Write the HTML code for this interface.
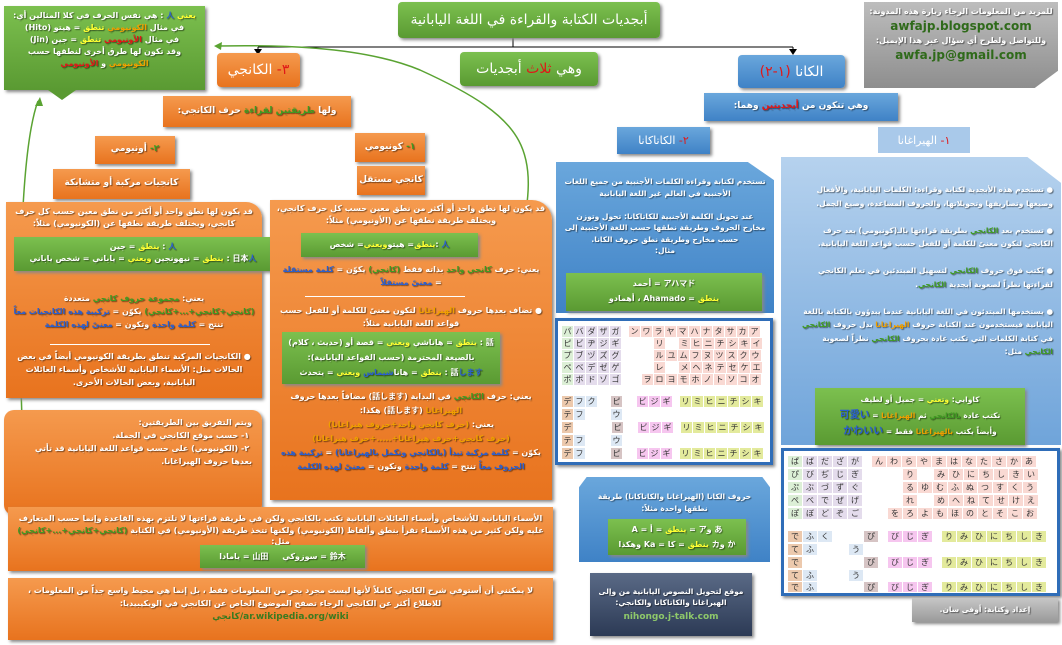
<!DOCTYPE html>
<html><head><meta charset="utf-8">
<style>
*{margin:0;padding:0;box-sizing:border-box}
body{width:1062px;height:645px;background:#fff;position:relative;overflow:hidden;font-family:"DejaVu Sans","Liberation Sans","Noto Sans CJK JP",sans-serif;font-weight:bold;color:#fff}
.a{position:absolute}
.g{background:linear-gradient(#7cc04f,#5a9a32);box-shadow:2px 2px 3px #888}
.o{background:linear-gradient(#f59a4e,#e8731e);box-shadow:2px 2px 3px #888}
.b{background:linear-gradient(#6aa7dc,#3f82c6);box-shadow:2px 2px 3px #888}
.c{display:flex;align-items:center;justify-content:center;text-align:center}
.t{direction:rtl;text-align:center;font-size:8px;line-height:11.5px;text-shadow:1px 1px 1px rgba(0,0,0,.5)}
.y{color:#ffff33}.r{color:#e01818}.gr{color:#3f9a22}.bl{color:#2a5fd0}.or{color:#f0a000}
.tbl{background:#fff;border:3px solid #2f6db8;box-shadow:2px 2px 3px #888;overflow:hidden}
.row{position:absolute;display:flex;left:4px}
.row span{display:block;font-size:8px;color:#333;text-shadow:none;text-align:center;font-weight:normal;margin-right:1px;flex:none}
.kt .row span:not(.e){width:11px!important}
.kt .row span.e{max-width:24px}
.p{background:#f9d9d3}.v{background:#e4dcec}.q{background:#dcefd6}.k{background:#e3ea9c}.m{background:#f6c6ef}.s{background:#dde8f4}.n{background:#ecc9ad}.x{background:#d6c4c4}.e{background:transparent}
</style></head><body>

<svg class="a" style="left:0;top:0" width="1062" height="645">
<line x1="513" y1="38" x2="513" y2="47" stroke="#000"/>
<line x1="258" y1="47" x2="793" y2="47" stroke="#000"/>
<line x1="258" y1="47" x2="258" y2="52" stroke="#000"/><polygon points="254,49 262,49 258,55" fill="#000"/>
<line x1="793" y1="47" x2="793" y2="52" stroke="#000"/><polygon points="789,49 797,49 793,55" fill="#000"/>
<path d="M520 245 C 540 150, 530 120, 420 70 C 360 45, 270 45, 218 46" stroke="#5aa332" stroke-width="1.5" fill="none"/>
<polygon points="214,46 222,42 221,50" fill="#5aa332"/>
<path d="M22 420 C 18 300, 20 150, 38 101" stroke="#5aa332" stroke-width="1.5" fill="none"/>
<polygon points="40,97 35,106 43,106" fill="#5aa332"/>
</svg>

<div class="a g c" style="left:398px;top:2px;width:262px;height:36px;border-radius:4px;font-size:14px;font-weight:normal;direction:rtl">أبجديات الكتابة والقراءة في اللغة اليابانية</div>
<div class="a g c" style="left:460px;top:52px;width:138px;height:34px;border-radius:4px;font-size:14px;font-weight:normal;direction:rtl">وهي <span class="r">&nbsp;ثلاث&nbsp;</span> أبجديات</div>
<div class="a o c" style="left:217px;top:53px;width:83px;height:34px;border-radius:4px;font-size:14px;font-weight:normal;direction:rtl"><span class="r">٣-&nbsp;</span>الكانجي</div>
<div class="a b c" style="left:738px;top:55px;width:107px;height:33px;border-radius:4px;font-size:14px;font-weight:normal;direction:rtl">الكانا&nbsp;<span class="r">(١-٢)</span></div>

<div class="a t" style="left:864px;top:2px;width:194px;height:86px;background:linear-gradient(#bdbdbd,#8e8e8e);box-shadow:2px 2px 3px #777;padding-top:4px;line-height:12px;clip-path:polygon(0 0,100% 0,100% 80%,88% 100%,0 100%)">
للمزيد من المعلومات الرجاء زيارة هذه المدونة:<br><span style="color:#2f6a1a;font-size:12px;line-height:17px;text-shadow:none">awfajp.blogspot.com</span><br>وللتواصل ولطرح أي سؤال عبر هذا الإيميل:<br><span style="color:#2f6a1a;font-size:12px;line-height:17px;text-shadow:none">awfa.jp@gmail.com</span></div>

<div class="a g t" style="left:4px;top:6px;width:201px;height:84px;padding:4px 6px;text-align:center;line-height:12px;font-size:8px">
<span class="y">يعني</span> <span class="bl">人</span> : هي نفس الحرف في كلا المثالين أي:<br>في مثال <span class="or">الكونيومي</span> <span class="y">تنطق</span> = هيتو (Hito)<br>في مثال <span class="r">الأونيومي</span> <span class="y">تنطق</span> = جين (Jin)<br>وقد تكون لها طرق أخرى لنطقها حسب <span class="or">الكونيومي</span> و <span class="r">الأونيومي</span></div>
<div class="a" style="left:48px;top:90px;width:0;height:0;border-left:14px solid transparent;border-right:14px solid transparent;border-top:10px solid #5a9a32"></div>

<div class="a o c t" style="left:163px;top:96px;width:188px;height:31px;font-size:9px">ولها <span class="gr">&nbsp;طريقتين لقراءة&nbsp;</span> حرف الكانجي:</div>
<div class="a b c t" style="left:704px;top:93px;width:194px;height:28px;font-size:9px">وهي تتكون من <span class="r">&nbsp;أبجديتين&nbsp;</span> وهما:</div>
<div class="a b c" style="left:617px;top:127px;width:93px;height:27px;font-size:11px;font-weight:normal;direction:rtl"><span class="r">٢-&nbsp;</span>الكاتاكانا</div>
<div class="a c" style="left:878px;top:127px;width:92px;height:26px;font-size:11px;font-weight:normal;direction:rtl;background:#a9c9ea"><span class="r">١-&nbsp;</span>الهيراغانا</div>

<div class="a o c t" style="left:355px;top:133px;width:70px;height:29px;font-size:9px"><span class="gr">١-&nbsp;</span>كونيومي</div>
<div class="a o c t" style="left:357px;top:166px;width:68px;height:29px;font-size:9px">كانجي مستقل</div>
<div class="a o c t" style="left:95px;top:136px;width:80px;height:28px;font-size:9px"><span class="gr">٢-&nbsp;</span>أونيومي</div>
<div class="a o c t" style="left:53px;top:169px;width:137px;height:30px;font-size:9px">كانجيات مركبة أو متشابكة</div>

<div class="a o t" style="left:6px;top:202px;width:256px;height:196px;border-radius:0 16px 0 0;padding:4px 6px;font-size:8px">
قد يكون لها نطق واحد أو أكثر من نطق معين حسب كل حرف كانجي، ويختلف طريقة نطقها عن (الكونيومي) مثلاً:</div>
<div class="a g t" style="left:14px;top:237px;width:258px;height:34px;padding-top:4px;font-size:8px"><span class="bl">人</span> : <span class="y">ينطق</span> = جين<br>日本<span class="bl">人</span> : <span class="y">ينطق</span> = نيهونجين <span class="y">ويعني</span> = ياباني = شخص ياباني</div>
<div class="a t" style="left:12px;top:292px;width:244px;font-size:8px;line-height:13px">يعني: <span class="gr">مجموعة حروف كانجي</span> متعددة <span class="gr">(كانجي+كانجي+...+كانجي)</span> يكوّن = <span class="bl">تركيبة هذه الكانجيات معاً</span> تنتج = <span class="bl">كلمة واحدة</span> وتكون = <span class="bl">معنىً لهذه الكلمة</span></div>
<div class="a" style="left:50px;top:344px;width:160px;height:1px;background:#fff"></div>
<div class="a t" style="left:12px;top:350px;width:244px;font-size:8px;line-height:13px">● الكانجيات المركبة تنطق بطريقة الكونيومي أيضاً في بعض الحالات مثل: الأسماء اليابانية للأشخاص وأسماء العائلات اليابانية، وبعض الحالات الأخرى.</div>

<div class="a o t" style="left:270px;top:200px;width:282px;height:300px;border-radius:0 20px 0 0;padding:3px 6px;font-size:8px">قد يكون لها نطق واحد أو أكثر من نطق معين حسب كل حرف كانجي، ويختلف طريقة نطقها عن (الأونيومي) مثلاً:</div>
<div class="a g c t" style="left:301px;top:233px;width:177px;height:24px;font-size:8px"><span class="bl">人</span>&nbsp;: <span class="y">ينطق</span> = هيتو <span class="y">ويعني</span> = شخص</div>
<div class="a t" style="left:278px;top:263px;width:266px;font-size:8px;line-height:13px">يعني: حرف <span class="gr">كانجي واحد</span> بذاته فقط <span class="gr">(كانجي)</span> يكوّن = <span class="bl">كلمة مستقلة</span> = <span class="bl">معنىً مستقلاً</span></div>
<div class="a" style="left:305px;top:296px;width:160px;height:1px;background:#fff"></div>
<div class="a t" style="left:278px;top:304px;width:266px;font-size:8px;line-height:13px">● تضاف بعدها حروف <span class="or">الهيراغانا</span> لتكون معنىً للكلمة أو للفعل حسب قواعد اللغة اليابانية مثلاً:</div>
<div class="a g t" style="left:282px;top:332px;width:218px;height:52px;padding-top:3px;font-size:8px;line-height:15px">話 : <span class="y">ينطق</span> = هاناشي <span class="y">ويعني</span> = قصة أو (حديث ، كلام)<br>بالصيغة المحترمة (حسب القواعد اليابانية):<br>話<span class="bl">します</span> : <span class="y">ينطق</span> = هانا<span class="bl">شيماس</span> <span class="y">ويعني</span> = يتحدث</div>
<div class="a t" style="left:278px;top:390px;width:266px;font-size:8px;line-height:14px">يعني: حرف <span class="gr">الكانجي</span> في البداية (話します) مضافاً بعدها حروف <span class="or">الهيراغانا</span> (話します) هكذا:<br>يعني: <span class="or">(حرف كانجي واحد+حروف هيراغانا)</span><br><span class="or">(حرف كانجي+حرف هيراغانا+.....+حرف هيراغانا)</span><br>يكوّن = <span class="bl">كلمة مركبة تبدأ (بالكانجي وتكمل بالهيراغانا)</span> = <span class="bl">تركيبة هذه الحروف معاً</span> تنتج = <span class="bl">كلمة واحدة</span> وتكون = <span class="bl">معنىً لهذه الكلمة</span></div>

<div class="a o t" style="left:4px;top:410px;width:258px;height:105px;border-radius:10px;padding:6px 10px;text-align:right;font-size:8px;line-height:13px">ويتم التفريق بين الطريقتين:<br>&nbsp;١- حسب موقع الكانجي في الجملة.<br>&nbsp;٢- (الكونيومي) على حسب قواعد اللغة اليابانية قد تأتي بعدها حروف الهيراغانا.</div>

<div class="a o t" style="left:8px;top:507px;width:545px;height:64px;padding:6px 8px;font-size:8px">الأسماء اليابانية للأشخاص وأسماء العائلات اليابانية تكتب بالكانجي ولكن في طريقة قراءتها لا تلتزم بهذه القاعدة وإنما حسب المتعارف عليه ولكن كثير من هذه الأسماء تقرأ بنطق وألفاظ (الكونيومي) ولكنها تتخذ طريقة (الأونيومي) في الكتابة <span class="gr">(كانجي+كانجي+...+كانجي)</span> مثل:</div>
<div class="a g c t" style="left:200px;top:545px;width:165px;height:23px;font-size:8px">鈴木 = سوزوكي &nbsp;&nbsp;&nbsp; 山田 = يامادا</div>
<div class="a o t" style="left:8px;top:578px;width:545px;height:62px;padding:6px 8px;font-size:8px;line-height:13px">لا يمكنني أن أستوفي شرح الكانجي كاملاً لأنها ليست مجرد بحر من المعلومات فقط ، بل إنما هي محيط واسع جداً من المعلومات ، للاطلاع أكثر عن الكانجي الرجاء تصفح الموضوع الخاص عن الكانجي في الويكيبيديا:<br><span style="color:#3b7a20;text-shadow:none;font-size:9px">ar.wikipedia.org/wiki/كانجي</span></div>

<div class="a b t" style="left:556px;top:162px;width:218px;height:151px;clip-path:polygon(0 0,88% 0,100% 12%,100% 100%,0 100%);padding:14px 8px;font-size:7.5px">تستخدم لكتابة وقراءة الكلمات الأجنبية من جميع اللغات الأجنبية في العالم غير اللغة اليابانية<br><br>عند تحويل الكلمة الأجنبية للكاتاكانا: تحول وتوزن مخارج الحروف وطريقة نطقها حسب اللغة الأجنبية إلى حسب مخارج وطريقة نطق حروف الكانا.<br>مثال:</div>
<div class="a g t" style="left:566px;top:273px;width:196px;height:38px;padding-top:3px;font-size:8px;line-height:15px">アハマド = أحمد<br><span class="y">ينطق</span> = Ahamado ، أهمادو</div>

<div class="a tbl kt" style="left:555px;top:318px;width:218px;height:147px">
<div class="row" style="top:5px"><span class="q" style="width:12px;height:11px">パ</span><span class="v" style="width:12px;height:11px">バ</span><span class="v" style="width:12px;height:11px">ダ</span><span class="v" style="width:12px;height:11px">ザ</span><span class="v" style="width:12px;height:11px">ガ</span><span class="e" style="width:6px"></span><span class="p" style="width:12px;height:11px">ン</span><span class="p" style="width:12px;height:11px">ワ</span><span class="p" style="width:12px;height:11px">ラ</span><span class="p" style="width:12px;height:11px">ヤ</span><span class="p" style="width:12px;height:11px">マ</span><span class="p" style="width:12px;height:11px">ハ</span><span class="p" style="width:12px;height:11px">ナ</span><span class="p" style="width:12px;height:11px">タ</span><span class="p" style="width:12px;height:11px">サ</span><span class="p" style="width:12px;height:11px">カ</span><span class="p" style="width:12px;height:11px">ア</span></div>
<div class="row" style="top:17px"><span class="q" style="width:12px;height:11px">ピ</span><span class="v" style="width:12px;height:11px">ビ</span><span class="v" style="width:12px;height:11px">ヂ</span><span class="v" style="width:12px;height:11px">ジ</span><span class="v" style="width:12px;height:11px">ギ</span><span class="e" style="width:6px"></span><span class="e" style="width:24px"></span><span class="p" style="width:12px;height:11px">リ</span><span class="e" style="width:12px"></span><span class="p" style="width:12px;height:11px">ミ</span><span class="p" style="width:12px;height:11px">ヒ</span><span class="p" style="width:12px;height:11px">ニ</span><span class="p" style="width:12px;height:11px">チ</span><span class="p" style="width:12px;height:11px">シ</span><span class="p" style="width:12px;height:11px">キ</span><span class="p" style="width:12px;height:11px">イ</span></div>
<div class="row" style="top:29px"><span class="q" style="width:12px;height:11px">プ</span><span class="v" style="width:12px;height:11px">ブ</span><span class="v" style="width:12px;height:11px">ヅ</span><span class="v" style="width:12px;height:11px">ズ</span><span class="v" style="width:12px;height:11px">グ</span><span class="e" style="width:6px"></span><span class="e" style="width:24px"></span><span class="p" style="width:12px;height:11px">ル</span><span class="p" style="width:12px;height:11px">ユ</span><span class="p" style="width:12px;height:11px">ム</span><span class="p" style="width:12px;height:11px">フ</span><span class="p" style="width:12px;height:11px">ヌ</span><span class="p" style="width:12px;height:11px">ツ</span><span class="p" style="width:12px;height:11px">ス</span><span class="p" style="width:12px;height:11px">ク</span><span class="p" style="width:12px;height:11px">ウ</span></div>
<div class="row" style="top:41px"><span class="q" style="width:12px;height:11px">ペ</span><span class="v" style="width:12px;height:11px">ベ</span><span class="v" style="width:12px;height:11px">デ</span><span class="v" style="width:12px;height:11px">ゼ</span><span class="v" style="width:12px;height:11px">ゲ</span><span class="e" style="width:6px"></span><span class="e" style="width:24px"></span><span class="p" style="width:12px;height:11px">レ</span><span class="e" style="width:12px"></span><span class="p" style="width:12px;height:11px">メ</span><span class="p" style="width:12px;height:11px">ヘ</span><span class="p" style="width:12px;height:11px">ネ</span><span class="p" style="width:12px;height:11px">テ</span><span class="p" style="width:12px;height:11px">セ</span><span class="p" style="width:12px;height:11px">ケ</span><span class="p" style="width:12px;height:11px">エ</span></div>
<div class="row" style="top:53px"><span class="q" style="width:12px;height:11px">ポ</span><span class="v" style="width:12px;height:11px">ボ</span><span class="v" style="width:12px;height:11px">ド</span><span class="v" style="width:12px;height:11px">ゾ</span><span class="v" style="width:12px;height:11px">ゴ</span><span class="e" style="width:6px"></span><span class="e" style="width:12px"></span><span class="p" style="width:12px;height:11px">ヲ</span><span class="p" style="width:12px;height:11px">ロ</span><span class="p" style="width:12px;height:11px">ヨ</span><span class="p" style="width:12px;height:11px">モ</span><span class="p" style="width:12px;height:11px">ホ</span><span class="p" style="width:12px;height:11px">ノ</span><span class="p" style="width:12px;height:11px">ト</span><span class="p" style="width:12px;height:11px">ソ</span><span class="p" style="width:12px;height:11px">コ</span><span class="p" style="width:12px;height:11px">オ</span></div>
<div class="row" style="top:75px"><span class="n" style="width:12px;height:11px">デ</span><span class="s" style="width:12px;height:11px">フ</span><span class="s" style="width:12px;height:11px">ク</span><span class="e" style="width:12px"></span><span class="x" style="width:12px;height:11px">ピ</span><span class="e" style="width:6px"></span><span class="e" style="width:6px"></span><span class="m" style="width:12px;height:11px">ビ</span><span class="m" style="width:12px;height:11px">ジ</span><span class="m" style="width:12px;height:11px">ギ</span><span class="e" style="width:6px"></span><span class="k" style="width:12px;height:11px">リ</span><span class="k" style="width:12px;height:11px">ミ</span><span class="k" style="width:12px;height:11px">ヒ</span><span class="k" style="width:12px;height:11px">ニ</span><span class="k" style="width:12px;height:11px">チ</span><span class="k" style="width:12px;height:11px">シ</span><span class="k" style="width:12px;height:11px">キ</span></div>
<div class="row" style="top:88px"><span class="n" style="width:12px;height:11px">テ</span><span class="s" style="width:12px;height:11px">フ</span><span class="e" style="width:24px"></span><span class="s" style="width:12px;height:11px">ウ</span></div>
<div class="row" style="top:101px"><span class="n" style="width:12px;height:11px">デ</span><span class="e" style="width:24px"></span><span class="e" style="width:12px"></span><span class="x" style="width:12px;height:11px">ピ</span><span class="e" style="width:6px"></span><span class="e" style="width:6px"></span><span class="m" style="width:12px;height:11px">ビ</span><span class="m" style="width:12px;height:11px">ジ</span><span class="m" style="width:12px;height:11px">ギ</span><span class="e" style="width:6px"></span><span class="k" style="width:12px;height:11px">リ</span><span class="k" style="width:12px;height:11px">ミ</span><span class="k" style="width:12px;height:11px">ヒ</span><span class="k" style="width:12px;height:11px">ニ</span><span class="k" style="width:12px;height:11px">チ</span><span class="k" style="width:12px;height:11px">シ</span><span class="k" style="width:12px;height:11px">キ</span></div>
<div class="row" style="top:114px"><span class="n" style="width:12px;height:11px">テ</span><span class="s" style="width:12px;height:11px">フ</span><span class="e" style="width:24px"></span><span class="s" style="width:12px;height:11px">ウ</span></div>
<div class="row" style="top:127px"><span class="n" style="width:12px;height:11px">デ</span><span class="s" style="width:12px;height:11px">フ</span><span class="e" style="width:24px"></span><span class="x" style="width:12px;height:11px">ピ</span><span class="e" style="width:6px"></span><span class="e" style="width:6px"></span><span class="m" style="width:12px;height:11px">ビ</span><span class="m" style="width:12px;height:11px">ジ</span><span class="m" style="width:12px;height:11px">ギ</span><span class="e" style="width:6px"></span><span class="k" style="width:12px;height:11px">リ</span><span class="k" style="width:12px;height:11px">ミ</span><span class="k" style="width:12px;height:11px">ヒ</span><span class="k" style="width:12px;height:11px">ニ</span><span class="k" style="width:12px;height:11px">チ</span><span class="k" style="width:12px;height:11px">シ</span><span class="k" style="width:12px;height:11px">キ</span></div>
</div>

<div class="a t" style="left:781px;top:157px;width:280px;height:288px;background:linear-gradient(#b6d2ee,#6fa4da);box-shadow:2px 2px 3px #888;clip-path:polygon(0 0,88% 0,100% 9%,100% 100%,0 100%);padding:26px 8px 0 14px;text-align:right;font-size:7.5px;line-height:13.5px">
● تستخدم هذه الأبجدية لكتابة وقراءة: الكلمات اليابانية، والأفعال وصيغها وتصاريفها وتحويلاتها، والحروف المساعدة، وصيغ الجمل.<br><br>
● تستخدم بعد <span class="gr">الكانجي</span> بطريقة قراءتها بالـ(كونيومي) بعد حرف الكانجي لتكون معنىً للكلمة أو للفعل حسب قواعد اللغة اليابانية.<br><br>
● يُكتب فوق حروف <span class="gr">الكانجي</span> لتسهيل المبتدئين في تعلم الكانجي لقراءتها نظراً لصعوبة أبجدية <span class="gr">الكانجي</span>.<br><br>
● يستخدمها المبتدئون في اللغة اليابانية عندما يبدؤون بالكتابة باللغة اليابانية فيستخدمون عند الكتابة حروف <span class="or">الهيراغانا</span> بدل حروف <span class="gr">الكانجي</span> في كتابة الكلمات التي تكتب عادة بحروف <span class="gr">الكانجي</span> نظراً لصعوبة <span class="gr">الكانجي</span> مثل:</div>
<div class="a g t" style="left:815px;top:388px;width:210px;height:57px;padding-top:4px;font-size:7.5px;line-height:16px">كاوايي: <span class="y">وتعني</span> = جميل أو لطيف<br>تكتب عادة <span class="gr">بالكانجي</span> ثم <span class="or">الهيراغانا</span> = <span class="bl" style="font-size:10px">可愛い</span><br>وأيضاً يكتب <span class="or">بالهيراغانا</span> فقط = <span class="bl" style="font-size:10px">かわいい</span></div>

<div class="a tbl" style="left:781px;top:448px;width:279px;height:148px">
<div class="row" style="top:5px"><span class="q" style="width:14px;height:11px">ぱ</span><span class="v" style="width:14px;height:11px">ば</span><span class="v" style="width:14px;height:11px">だ</span><span class="v" style="width:14px;height:11px">ざ</span><span class="v" style="width:14px;height:11px">が</span><span class="e" style="width:8px"></span><span class="p" style="width:14px;height:11px">ん</span><span class="p" style="width:14px;height:11px">わ</span><span class="p" style="width:14px;height:11px">ら</span><span class="p" style="width:14px;height:11px">や</span><span class="p" style="width:14px;height:11px">ま</span><span class="p" style="width:14px;height:11px">は</span><span class="p" style="width:14px;height:11px">な</span><span class="p" style="width:14px;height:11px">た</span><span class="p" style="width:14px;height:11px">さ</span><span class="p" style="width:14px;height:11px">か</span><span class="p" style="width:14px;height:11px">あ</span></div>
<div class="row" style="top:18px"><span class="q" style="width:14px;height:11px">ぴ</span><span class="v" style="width:14px;height:11px">び</span><span class="v" style="width:14px;height:11px">ぢ</span><span class="v" style="width:14px;height:11px">じ</span><span class="v" style="width:14px;height:11px">ぎ</span><span class="e" style="width:8px"></span><span class="e" style="width:30px"></span><span class="p" style="width:14px;height:11px">り</span><span class="e" style="width:15px"></span><span class="p" style="width:14px;height:11px">み</span><span class="p" style="width:14px;height:11px">ひ</span><span class="p" style="width:14px;height:11px">に</span><span class="p" style="width:14px;height:11px">ち</span><span class="p" style="width:14px;height:11px">し</span><span class="p" style="width:14px;height:11px">き</span><span class="p" style="width:14px;height:11px">い</span></div>
<div class="row" style="top:31px"><span class="q" style="width:14px;height:11px">ぷ</span><span class="v" style="width:14px;height:11px">ぶ</span><span class="v" style="width:14px;height:11px">づ</span><span class="v" style="width:14px;height:11px">ず</span><span class="v" style="width:14px;height:11px">ぐ</span><span class="e" style="width:8px"></span><span class="e" style="width:30px"></span><span class="p" style="width:14px;height:11px">る</span><span class="p" style="width:14px;height:11px">ゆ</span><span class="p" style="width:14px;height:11px">む</span><span class="p" style="width:14px;height:11px">ふ</span><span class="p" style="width:14px;height:11px">ぬ</span><span class="p" style="width:14px;height:11px">つ</span><span class="p" style="width:14px;height:11px">す</span><span class="p" style="width:14px;height:11px">く</span><span class="p" style="width:14px;height:11px">う</span></div>
<div class="row" style="top:44px"><span class="q" style="width:14px;height:11px">ぺ</span><span class="v" style="width:14px;height:11px">べ</span><span class="v" style="width:14px;height:11px">で</span><span class="v" style="width:14px;height:11px">ぜ</span><span class="v" style="width:14px;height:11px">げ</span><span class="e" style="width:8px"></span><span class="e" style="width:30px"></span><span class="p" style="width:14px;height:11px">れ</span><span class="e" style="width:15px"></span><span class="p" style="width:14px;height:11px">め</span><span class="p" style="width:14px;height:11px">へ</span><span class="p" style="width:14px;height:11px">ね</span><span class="p" style="width:14px;height:11px">て</span><span class="p" style="width:14px;height:11px">せ</span><span class="p" style="width:14px;height:11px">け</span><span class="p" style="width:14px;height:11px">え</span></div>
<div class="row" style="top:57px"><span class="q" style="width:14px;height:11px">ぽ</span><span class="v" style="width:14px;height:11px">ぼ</span><span class="v" style="width:14px;height:11px">ど</span><span class="v" style="width:14px;height:11px">ぞ</span><span class="v" style="width:14px;height:11px">ご</span><span class="e" style="width:8px"></span><span class="e" style="width:15px"></span><span class="p" style="width:14px;height:11px">を</span><span class="p" style="width:14px;height:11px">ろ</span><span class="p" style="width:14px;height:11px">よ</span><span class="p" style="width:14px;height:11px">も</span><span class="p" style="width:14px;height:11px">ほ</span><span class="p" style="width:14px;height:11px">の</span><span class="p" style="width:14px;height:11px">と</span><span class="p" style="width:14px;height:11px">そ</span><span class="p" style="width:14px;height:11px">こ</span><span class="p" style="width:14px;height:11px">お</span></div>
<div class="row" style="top:80px"><span class="n" style="width:14px;height:11px">で</span><span class="s" style="width:14px;height:11px">ふ</span><span class="s" style="width:14px;height:11px">く</span><span class="e" style="width:30px"></span><span class="x" style="width:14px;height:11px">ぴ</span><span class="e" style="width:8px"></span><span class="m" style="width:14px;height:11px">び</span><span class="m" style="width:14px;height:11px">じ</span><span class="m" style="width:14px;height:11px">ぎ</span><span class="e" style="width:8px"></span><span class="k" style="width:14px;height:11px">り</span><span class="k" style="width:14px;height:11px">み</span><span class="k" style="width:14px;height:11px">ひ</span><span class="k" style="width:14px;height:11px">に</span><span class="k" style="width:14px;height:11px">ち</span><span class="k" style="width:14px;height:11px">し</span><span class="k" style="width:14px;height:11px">き</span></div>
<div class="row" style="top:93px"><span class="n" style="width:14px;height:11px">て</span><span class="s" style="width:14px;height:11px">ふ</span><span class="e" style="width:30px"></span><span class="s" style="width:14px;height:11px">う</span></div>
<div class="row" style="top:106px"><span class="n" style="width:14px;height:11px">で</span><span class="e" style="width:60px"></span><span class="x" style="width:14px;height:11px">ぴ</span><span class="e" style="width:8px"></span><span class="m" style="width:14px;height:11px">び</span><span class="m" style="width:14px;height:11px">じ</span><span class="m" style="width:14px;height:11px">ぎ</span><span class="e" style="width:8px"></span><span class="k" style="width:14px;height:11px">り</span><span class="k" style="width:14px;height:11px">み</span><span class="k" style="width:14px;height:11px">ひ</span><span class="k" style="width:14px;height:11px">に</span><span class="k" style="width:14px;height:11px">ち</span><span class="k" style="width:14px;height:11px">し</span><span class="k" style="width:14px;height:11px">き</span></div>
<div class="row" style="top:119px"><span class="n" style="width:14px;height:11px">て</span><span class="s" style="width:14px;height:11px">ふ</span><span class="e" style="width:30px"></span><span class="s" style="width:14px;height:11px">う</span></div>
<div class="row" style="top:131px"><span class="n" style="width:14px;height:10px">で</span><span class="s" style="width:14px;height:10px">ふ</span><span class="e" style="width:45px"></span><span class="x" style="width:14px;height:10px">ぴ</span><span class="e" style="width:8px"></span><span class="m" style="width:14px;height:10px">び</span><span class="m" style="width:14px;height:10px">じ</span><span class="m" style="width:14px;height:10px">ぎ</span><span class="e" style="width:8px"></span><span class="k" style="width:14px;height:10px">り</span><span class="k" style="width:14px;height:10px">み</span><span class="k" style="width:14px;height:10px">ひ</span><span class="k" style="width:14px;height:10px">に</span><span class="k" style="width:14px;height:10px">ち</span><span class="k" style="width:14px;height:10px">し</span><span class="k" style="width:14px;height:10px">き</span></div>
</div>

<div class="a b t" style="left:579px;top:477px;width:191px;height:85px;clip-path:polygon(4% 0,96% 0,100% 12%,100% 100%,0 100%,0 12%);padding:14px 8px 0;font-size:7.5px">حروف الكانا (الهيراغانا والكاتاكانا) طريقة نطقها واحدة مثلاً:</div>
<div class="a g t" style="left:608px;top:519px;width:138px;height:36px;padding-top:3px;font-size:8px;line-height:15px">あ وア = <span class="y">ينطق</span> = أ = A<br>か وカ <span class="y">ينطق</span> = كا = Ka وهكذا</div>

<div class="a c t" style="left:590px;top:573px;width:162px;height:63px;background:linear-gradient(#5a6a86,#2c3a55);box-shadow:2px 2px 3px #888;flex-direction:column;font-size:7.5px">موقع لتحويل النصوص اليابانية من وإلى الهيراغانا والكاتاكانا والكانجي:<span style="color:#8ec86a;font-size:9px;text-shadow:none;margin-top:3px">nihongo.j-talk.com</span></div>

<div class="a c t" style="left:912px;top:598px;width:146px;height:24px;background:linear-gradient(#c6c6c6,#9a9a9a);box-shadow:2px 2px 3px #888;font-size:7.5px">إعداد وكتابة: أوفى سان.</div>
</body></html>
